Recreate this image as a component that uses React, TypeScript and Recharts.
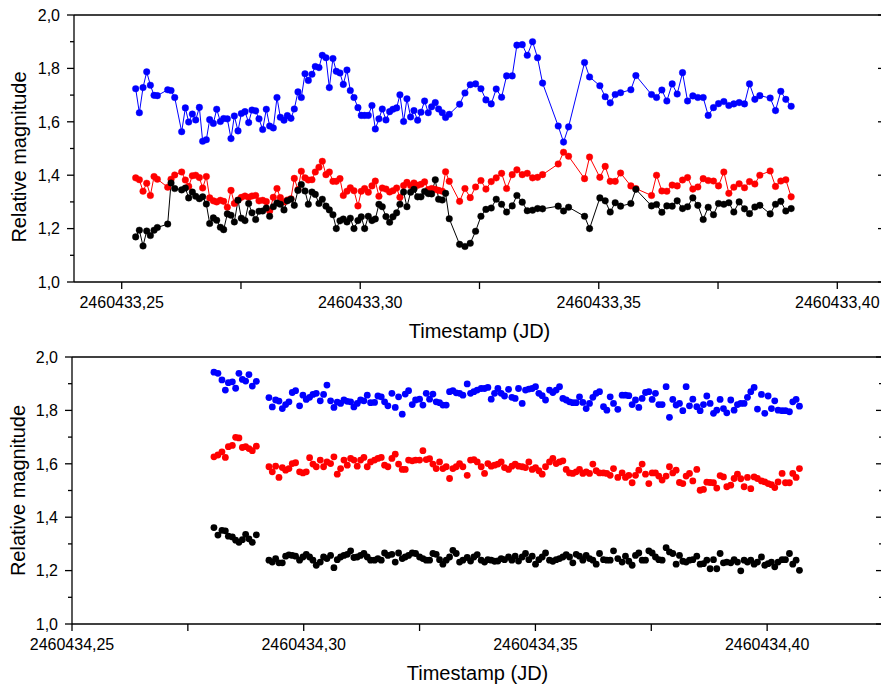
import React from 'react';
import { LineChart, Line, ScatterChart, Scatter, XAxis, YAxis } from 'recharts';

const FONT = '"Liberation Sans", Arial, Helvetica, sans-serif';

// ---------- axis / label definitions ----------
const topJD = '2460433';
const bottomJD = '2460434';
const magnitudeTicks = [1.0, 1.1, 1.2, 1.3, 1.4, 1.5, 1.6, 1.7, 1.8, 1.9, 2.0];
const magnitudeLabels = [1.0, 1.2, 1.4, 1.6, 1.8, 2.0];
const topTimeTicks = [0.25, 0.275, 0.3, 0.325, 0.35, 0.375, 0.4];
const topTimeLabels = [0.25, 0.3, 0.35, 0.4];
const bottomTimeTicks = [0.25, 0.275, 0.3, 0.325, 0.35, 0.375, 0.4, 0.425];
const bottomTimeLabels = [0.25, 0.3, 0.35, 0.4];
const topDomain = [0.24, 0.41];
const bottomDomain = [0.25, 0.425];
const magDomain = [1.0, 2.0];

// ---------- top panel data (JD - 2460433) ----------
const topTime = [
  0.25293, 0.2537, 0.25447, 0.25524, 0.25601, 0.25678, 0.25747, 0.25964, 0.26034, 0.26111,
  0.26257, 0.26334, 0.26404, 0.26481, 0.26551, 0.26628, 0.26697, 0.26774, 0.26844, 0.26921,
  0.26991, 0.27068, 0.27137, 0.27214, 0.27291, 0.27361, 0.27438, 0.27508, 0.27584, 0.27661,
  0.27731, 0.27808, 0.27878, 0.27955, 0.28031, 0.28101, 0.28178, 0.28255, 0.28325, 0.28402,
  0.28472, 0.28548, 0.28618, 0.28695, 0.28765, 0.28842, 0.28912, 0.28988, 0.29058, 0.29135,
  0.29205, 0.29282, 0.29352, 0.29428, 0.29498, 0.29575, 0.29645, 0.29722, 0.29792, 0.29869,
  0.29952, 0.30022, 0.30092, 0.30169, 0.30246, 0.30316, 0.30392, 0.30462, 0.30539, 0.30616,
  0.30686, 0.30763, 0.30832, 0.30909, 0.30979, 0.31056, 0.31126, 0.31203, 0.31273, 0.31349,
  0.31426, 0.31496, 0.31573, 0.31643, 0.3172, 0.31789, 0.31866, 0.32083, 0.32195, 0.32306,
  0.32418, 0.3253, 0.32635, 0.32746, 0.32851, 0.32963, 0.33068, 0.33186, 0.33284, 0.33396,
  0.33501, 0.33612, 0.33717, 0.33822, 0.3415, 0.34262, 0.34367,
  0.34702, 0.34807, 0.35023, 0.35135, 0.3524, 0.35345, 0.35457, 0.35673, 0.35778, 0.36106,
  0.36211, 0.36323, 0.36427, 0.36539, 0.36644, 0.36756, 0.36861, 0.36972, 0.37077, 0.37189,
  0.37294, 0.37405, 0.3751, 0.37622, 0.37727, 0.37831, 0.37943, 0.38055, 0.3816, 0.38272,
  0.38376, 0.38593, 0.38705, 0.38816, 0.38921, 0.39033,
];
const topBlue = [
  1.724, 1.634, 1.728, 1.787, 1.737, 1.699, 1.698, 1.72, 1.717, 1.691,
  1.563, 1.652, 1.599, 1.629, 1.607, 1.654, 1.527, 1.533, 1.608, 1.594,
  1.647, 1.601, 1.612, 1.611, 1.537, 1.622, 1.566, 1.631, 1.638, 1.597,
  1.644, 1.641, 1.611, 1.571, 1.647, 1.584, 1.577, 1.691, 1.617, 1.606,
  1.623, 1.613, 1.648, 1.712, 1.691, 1.78, 1.755, 1.778, 1.807, 1.803,
  1.849, 1.84, 1.728, 1.837, 1.789, 1.783, 1.74, 1.794, 1.717, 1.691,
  1.653, 1.624, 1.624, 1.624, 1.661, 1.573, 1.611, 1.648, 1.607, 1.638,
  1.647, 1.652, 1.701, 1.601, 1.686, 1.618, 1.642, 1.606, 1.636, 1.678,
  1.634, 1.656, 1.672, 1.648, 1.634, 1.616, 1.628, 1.666, 1.708, 1.739,
  1.742, 1.724, 1.682, 1.667, 1.723, 1.692, 1.772, 1.772, 1.887, 1.889,
  1.849, 1.9, 1.84, 1.745, 1.584, 1.524, 1.581,
  1.822, 1.768, 1.735, 1.694, 1.671, 1.702, 1.709, 1.72, 1.773, 1.702,
  1.691, 1.719, 1.678, 1.742, 1.704, 1.784, 1.678, 1.697, 1.691, 1.691,
  1.624, 1.653, 1.668, 1.676, 1.661, 1.667, 1.672, 1.667, 1.742, 1.684,
  1.698, 1.689, 1.642, 1.714, 1.684, 1.658,
];
const topRed = [
  1.39, 1.383, 1.34, 1.37, 1.324, 1.395, 1.385, 1.355, 1.385, 1.401,
  1.412, 1.382, 1.358, 1.398, 1.4, 1.391, 1.352, 1.395, 1.315, 1.304,
  1.3, 1.306, 1.302, 1.28, 1.343, 1.294, 1.307, 1.317, 1.322, 1.317,
  1.322, 1.324, 1.304, 1.306, 1.301, 1.266, 1.317, 1.35, 1.316, 1.3,
  1.307, 1.312, 1.388, 1.346, 1.415, 1.39, 1.382, 1.383, 1.412, 1.43,
  1.452, 1.402, 1.412, 1.377, 1.377, 1.387, 1.324, 1.34, 1.353, 1.342,
  1.285, 1.34, 1.35, 1.336, 1.36, 1.378, 1.321, 1.352, 1.348, 1.337,
  1.342, 1.352, 1.317, 1.361, 1.373, 1.361, 1.371, 1.362, 1.366, 1.375,
  1.346, 1.35, 1.347, 1.343, 1.34, 1.413, 1.377, 1.302, 1.35, 1.316,
  1.356, 1.38, 1.348, 1.376, 1.39, 1.407, 1.35, 1.402, 1.42, 1.402,
  1.407, 1.39, 1.392, 1.402, 1.442, 1.486, 1.471,
  1.387, 1.468, 1.392, 1.433, 1.377, 1.377, 1.408, 1.36, 1.35, 1.324,
  1.4, 1.341, 1.34, 1.363, 1.36, 1.382, 1.391, 1.348, 1.356, 1.387,
  1.38, 1.378, 1.36, 1.412, 1.332, 1.355, 1.368, 1.353, 1.376, 1.367,
  1.4, 1.416, 1.358, 1.378, 1.383, 1.319,
];
const topBlack = [
  1.169, 1.194, 1.135, 1.191, 1.174, 1.194, 1.204, 1.217, 1.371, 1.35,
  1.345, 1.352, 1.315, 1.337, 1.321, 1.312, 1.319, 1.292, 1.219, 1.24,
  1.231, 1.205, 1.196, 1.255, 1.25, 1.225, 1.306, 1.239, 1.23, 1.294,
  1.259, 1.234, 1.265, 1.266, 1.277, 1.246, 1.282, 1.296, 1.291, 1.27,
  1.304, 1.31, 1.287, 1.343, 1.365, 1.341, 1.291, 1.337, 1.328, 1.294,
  1.31, 1.284, 1.27, 1.252, 1.2, 1.229, 1.236, 1.225, 1.239, 1.2,
  1.23, 1.244, 1.2, 1.246, 1.23, 1.236, 1.291, 1.282, 1.245, 1.224,
  1.244, 1.259, 1.291, 1.337, 1.282, 1.336, 1.347, 1.319, 1.319, 1.339,
  1.331, 1.33, 1.383, 1.31, 1.307, 1.332, 1.237, 1.141, 1.133, 1.145,
  1.19, 1.246, 1.272, 1.277, 1.31, 1.291, 1.262, 1.285, 1.324, 1.299,
  1.267, 1.269, 1.275, 1.274, 1.284, 1.266, 1.28,
  1.246, 1.2, 1.315, 1.304, 1.262, 1.297, 1.284, 1.294, 1.347, 1.285,
  1.29, 1.261, 1.285, 1.284, 1.304, 1.275, 1.282, 1.315, 1.287, 1.234,
  1.28, 1.252, 1.294, 1.291, 1.297, 1.262, 1.3, 1.274, 1.256, 1.281,
  1.287, 1.255, 1.291, 1.302, 1.266, 1.275,
];

// ---------- bottom panel data (JD - 2460434) ----------
const bottomTime = [
  0.28063, 0.28149, 0.28236, 0.28309, 0.28374, 0.2846, 0.28531, 0.28602, 0.28676, 0.28747,
  0.28818, 0.28891, 0.28978,
  0.2925, 0.29322, 0.29394, 0.29466, 0.29538, 0.2961, 0.29681, 0.29753, 0.29825, 0.29911,
  0.29983, 0.30055, 0.30127, 0.30199, 0.30271, 0.30357, 0.30429, 0.30501, 0.3058, 0.30652,
  0.30724, 0.30796, 0.30868, 0.3094, 0.31012, 0.31083, 0.31155, 0.31227, 0.31299, 0.31371,
  0.31443, 0.31529, 0.31601, 0.31673, 0.31745, 0.31817, 0.31903, 0.31975, 0.32047, 0.32126,
  0.32191, 0.32263, 0.32342, 0.32414, 0.325, 0.32572, 0.32644, 0.32716, 0.32788, 0.32859,
  0.32931, 0.33003,
  0.33075, 0.33147, 0.33219, 0.33291, 0.33363, 0.33435, 0.33528, 0.336, 0.33672, 0.33744,
  0.3383, 0.33902, 0.33974, 0.34046, 0.34118, 0.3419, 0.34261, 0.34333, 0.3442, 0.34492,
  0.34563, 0.34635, 0.34714, 0.34786, 0.34858, 0.3493, 0.35002, 0.35074, 0.35146, 0.35218,
  0.35304, 0.35376, 0.35448, 0.3552, 0.35592, 0.35664, 0.35735, 0.35807, 0.35879, 0.35951,
  0.36023, 0.36095, 0.36167, 0.36239, 0.36311, 0.36383, 0.36469, 0.36541, 0.36613, 0.36685,
  0.36778,
  0.36871, 0.36943, 0.37015, 0.37087, 0.37159, 0.37231, 0.37303, 0.37375, 0.37447, 0.37519,
  0.3759, 0.37662, 0.37734, 0.3782, 0.37892, 0.37964, 0.38036, 0.38108, 0.3818, 0.38252,
  0.38324, 0.38396, 0.38482, 0.38554, 0.38626, 0.38698, 0.3877, 0.38842, 0.38913, 0.38985,
  0.39057, 0.39129, 0.39215, 0.39287, 0.39359, 0.39431, 0.39503, 0.39575, 0.39647, 0.39719,
  0.39791, 0.39877, 0.39949, 0.40021, 0.40093, 0.40164, 0.40236, 0.40323, 0.40395, 0.40481,
  0.40553, 0.40625, 0.40697,
];
const bottomBlue = [
  1.943, 1.939, 1.914, 1.876, 1.904, 1.907, 1.883, 1.939, 1.916, 1.91, 1.934, 1.891, 1.909,
  1.848, 1.813, 1.839, 1.835, 1.807, 1.822, 1.832, 1.867, 1.874, 1.817,
  1.857, 1.841, 1.849, 1.86, 1.864, 1.836, 1.86, 1.895, 1.836, 1.811,
  1.831, 1.826, 1.839, 1.834, 1.832, 1.813, 1.826, 1.839, 1.836, 1.857,
  1.829, 1.83, 1.854, 1.851, 1.832, 1.817, 1.864, 1.811, 1.851, 1.786,
  1.861, 1.874, 1.822, 1.839, 1.842, 1.82, 1.864, 1.842, 1.861, 1.832,
  1.829, 1.82,
  1.82, 1.87, 1.874, 1.866, 1.864, 1.857, 1.899, 1.864, 1.87, 1.876,
  1.882, 1.882, 1.886, 1.842, 1.864, 1.882, 1.864, 1.854, 1.879, 1.849,
  1.845, 1.882, 1.826, 1.876, 1.88, 1.882, 1.889, 1.864, 1.855, 1.839,
  1.876, 1.867, 1.876, 1.889, 1.845, 1.839, 1.832, 1.829, 1.829, 1.851,
  1.83, 1.807, 1.826, 1.849, 1.864, 1.87, 1.814, 1.801, 1.851, 1.826,
  1.804,
  1.857, 1.857, 1.855, 1.822, 1.839, 1.811, 1.845, 1.867, 1.87, 1.841,
  1.864, 1.822, 1.822, 1.889, 1.774, 1.841, 1.82, 1.826, 1.799, 1.889,
  1.817, 1.842, 1.814, 1.799, 1.822, 1.854, 1.826, 1.789, 1.801, 1.841,
  1.807, 1.791, 1.839, 1.801, 1.822, 1.826, 1.826, 1.849, 1.87, 1.886,
  1.805, 1.86, 1.789, 1.854, 1.807, 1.836, 1.801, 1.799, 1.799, 1.795,
  1.832, 1.841, 1.816,
];
const bottomRed = [
  1.626, 1.633, 1.645, 1.624, 1.664, 1.669, 1.699, 1.697, 1.661, 1.664, 1.657, 1.649, 1.666,
  1.589, 1.57, 1.591, 1.549, 1.586, 1.576, 1.582, 1.601, 1.604, 1.57,
  1.566, 1.57, 1.623, 1.599, 1.589, 1.614, 1.589, 1.607, 1.601, 1.626,
  1.561, 1.582, 1.614, 1.595, 1.62, 1.614, 1.591, 1.614, 1.624, 1.589,
  1.607, 1.614, 1.62, 1.624, 1.595, 1.589, 1.62, 1.636, 1.599, 1.579,
  1.579, 1.614, 1.611, 1.614, 1.614, 1.649, 1.616, 1.619, 1.599, 1.582,
  1.607, 1.582,
  1.589, 1.545, 1.582, 1.589, 1.601, 1.589, 1.557, 1.614, 1.616, 1.607,
  1.589, 1.564, 1.601, 1.591, 1.595, 1.599, 1.607, 1.586, 1.579, 1.591,
  1.599, 1.591, 1.589, 1.586, 1.607, 1.579, 1.586, 1.574, 1.561, 1.589,
  1.607, 1.62, 1.601, 1.607, 1.611, 1.579, 1.566, 1.564, 1.57, 1.579,
  1.564, 1.57, 1.564, 1.599, 1.574, 1.566, 1.566, 1.564, 1.557, 1.582,
  1.549,
  1.566, 1.549, 1.557, 1.529, 1.557, 1.576, 1.599, 1.561, 1.526, 1.566,
  1.566, 1.554, 1.539, 1.554, 1.589, 1.566, 1.576, 1.53, 1.526, 1.554,
  1.564, 1.536, 1.579, 1.501, 1.504, 1.531, 1.53, 1.529, 1.509, 1.556,
  1.551, 1.514, 1.52, 1.545, 1.561, 1.544, 1.514, 1.549, 1.507, 1.551,
  1.545, 1.536, 1.532, 1.526, 1.522, 1.511, 1.532, 1.564, 1.529, 1.529,
  1.564, 1.549, 1.582,
];
const bottomBlack = [
  1.361, 1.333, 1.351, 1.349, 1.329, 1.326, 1.314, 1.306, 1.316, 1.336, 1.319, 1.306, 1.334,
  1.239, 1.232, 1.245, 1.229, 1.229, 1.254, 1.259, 1.257, 1.254, 1.239,
  1.251, 1.261, 1.251, 1.239, 1.22, 1.232, 1.251, 1.245, 1.257, 1.211,
  1.241, 1.251, 1.257, 1.261, 1.274, 1.249, 1.251, 1.257, 1.264, 1.251,
  1.239, 1.239, 1.245, 1.239, 1.266, 1.257, 1.261, 1.232, 1.266, 1.245,
  1.251, 1.257, 1.266, 1.264, 1.251, 1.245, 1.239, 1.239, 1.264, 1.261,
  1.241, 1.224,
  1.239, 1.251, 1.276, 1.264, 1.232, 1.239, 1.249, 1.236, 1.251, 1.26,
  1.239, 1.232, 1.241, 1.239, 1.235, 1.236, 1.245, 1.241, 1.251, 1.239,
  1.254, 1.236, 1.251, 1.264, 1.241, 1.254, 1.224, 1.241, 1.251, 1.266,
  1.239, 1.235, 1.241, 1.245, 1.251, 1.26, 1.251, 1.229, 1.261, 1.254,
  1.239, 1.257, 1.245, 1.239, 1.224, 1.264, 1.241, 1.239, 1.239, 1.274,
  1.245,
  1.232, 1.254, 1.235, 1.22, 1.257, 1.266, 1.239, 1.239, 1.274, 1.266,
  1.251, 1.241, 1.239, 1.286, 1.27, 1.264, 1.224, 1.257, 1.235, 1.232,
  1.239, 1.241, 1.254, 1.224, 1.226, 1.239, 1.207, 1.241, 1.207, 1.264,
  1.229, 1.232, 1.229, 1.241, 1.232, 1.199, 1.239, 1.232, 1.239, 1.224,
  1.232, 1.251, 1.22, 1.226, 1.232, 1.214, 1.232, 1.241, 1.241, 1.264,
  1.224, 1.239, 1.201,
];

const BLUE = '#0000ff';
const RED = '#ff0000';
const BLACK = '#000000';

// ---------- tables built from the arrays ----------
const topRows = topTime.map((t, i) => ({ t, blue: topBlue[i], red: topRed[i], black: topBlack[i] }));
const toPoints = (vals: number[]) =>
  bottomTime.slice(0, vals.length).map((t, i) => ({ t, v: vals[i] }));
const bottomBluePts = toPoints(bottomBlue);
const bottomRedPts = toPoints(bottomRed);
const bottomBlackPts = toPoints(bottomBlack);

// ---------- layout ----------
const CHART_W = 900;
const PLOT_H = 267;
const TOP_H = 352;
const BOT_H = 346;

const near = (list: number[], v: number) => list.some((m) => Math.abs(m - v) < 1e-6);
const fmtMag = (v: number) => v.toFixed(1).replace('.', ',');
const fmtTime = (jd: string, v: number) => `${jd},${String(Math.round(v * 100)).padStart(2, '0')}`;

const AX = { stroke: '#000', strokeWidth: 1.3 };

const LeftMagTick = (props: any) => {
  const { x, y, payload } = props;
  const v = payload.value;
  const major = near(magnitudeLabels, v);
  return (
    <g>
      <line x1={x - (major ? 7 : 4)} x2={x} y1={y} y2={y} stroke="#000" strokeWidth={1.3} />
      {major && (
        <text x={x - 14} y={y} dy={5.7} textAnchor="end" fontSize={16} fontFamily={FONT} fill="#000">
          {fmtMag(v)}
        </text>
      )}
    </g>
  );
};

const RightMagTick = (props: any) => {
  const { x, y, payload } = props;
  const major = near(magnitudeLabels, payload.value);
  return <line x1={x - (major ? 7 : 4)} x2={x} y1={y} y2={y} stroke="#000" strokeWidth={1.3} />;
};

const makeTimeTick = (jd: string, labels: number[]) => (props: any) => {
  const { x, y, payload } = props;
  const v = payload.value;
  return (
    <g>
      <line x1={x} x2={x} y1={y} y2={y + 7} stroke="#000" strokeWidth={1.3} />
      {near(labels, v) && (
        <text x={x} y={y + 26} textAnchor="middle" fontSize={16} fontFamily={FONT} fill="#000">
          {fmtTime(jd, v)}
        </text>
      )}
    </g>
  );
};

const yTitle = (cx: number, cy: number) => () => (
  <text
    x={cx}
    y={cy}
    transform={`rotate(-90, ${cx}, ${cy})`}
    textAnchor="middle"
    fontSize={20}
    fontFamily={FONT}
    fill="#000"
  >
    Relative magnitude
  </text>
);

const xTitle = (cx: number, y: number) => () => (
  <text x={cx} y={y} textAnchor="middle" fontSize={20} fontFamily={FONT} fill="#000">
    Timestamp (JD)
  </text>
);

const dotShape = (color: string) => (p: any) => <circle cx={p.cx} cy={p.cy} r={3.4} fill={color} />;

function TopPanel() {
  const left = 74;
  const top = 15;
  const right = 15;
  const xH = TOP_H - top - PLOT_H;
  const plotW = CHART_W - left - right;
  return (
    <LineChart width={CHART_W} height={TOP_H} data={topRows} margin={{ top, right, bottom: 0, left: 0 }}>
      <XAxis
        type="number"
        dataKey="t"
        domain={topDomain}
        allowDataOverflow
        ticks={topTimeTicks}
        interval={0}
        height={xH}
        tickSize={0}
        tickMargin={0}
        tickLine={false}
        axisLine={AX}
        tick={makeTimeTick(topJD, topTimeLabels)}
        label={xTitle(left + plotW / 2, top + PLOT_H + 56)}
      />
      <XAxis
        xAxisId="top"
        orientation="top"
        mirror
        type="number"
        domain={topDomain}
        allowDataOverflow
        ticks={topTimeTicks}
        interval={0}
        tickSize={7}
        tick={false}
        tickLine={AX}
        axisLine={AX}
      />
      <YAxis
        type="number"
        domain={magDomain}
        allowDataOverflow
        ticks={magnitudeTicks}
        interval={0}
        width={left}
        tickSize={0}
        tickMargin={0}
        tickLine={false}
        axisLine={AX}
        tick={LeftMagTick}
        label={yTitle(26, 157)}
      />
      <YAxis
        yAxisId="right"
        orientation="right"
        mirror
        type="number"
        domain={magDomain}
        allowDataOverflow
        ticks={magnitudeTicks}
        interval={0}
        tickSize={0}
        tickMargin={0}
        tickLine={false}
        axisLine={AX}
        tick={RightMagTick}
      />
      <Line
        dataKey="blue"
        stroke={BLUE}
        strokeWidth={1}
        dot={{ r: 3.3, fill: BLUE, stroke: BLUE, strokeWidth: 0.4 }}
        activeDot={false}
        isAnimationActive={false}
      />
      <Line
        dataKey="red"
        stroke={RED}
        strokeWidth={1}
        dot={{ r: 3.3, fill: RED, stroke: RED, strokeWidth: 0.4 }}
        activeDot={false}
        isAnimationActive={false}
      />
      <Line
        dataKey="black"
        stroke={BLACK}
        strokeWidth={1}
        dot={{ r: 3.3, fill: BLACK, stroke: BLACK, strokeWidth: 0.4 }}
        activeDot={false}
        isAnimationActive={false}
      />
    </LineChart>
  );
}

function BottomPanel() {
  const left = 72;
  const top = 17;
  const right = 17;
  const xH = BOT_H - top - PLOT_H;
  const plotW = CHART_W - left - right;
  return (
    <ScatterChart width={CHART_W} height={BOT_H} margin={{ top, right, bottom: 0, left: 0 }}>
      <XAxis
        type="number"
        dataKey="t"
        domain={bottomDomain}
        allowDataOverflow
        ticks={bottomTimeTicks}
        interval={0}
        height={xH}
        tickSize={0}
        tickMargin={0}
        tickLine={false}
        axisLine={AX}
        tick={makeTimeTick(bottomJD, bottomTimeLabels)}
        label={xTitle(left + plotW / 2, top + PLOT_H + 55.5)}
      />
      <XAxis
        xAxisId="top"
        orientation="top"
        mirror
        type="number"
        domain={bottomDomain}
        allowDataOverflow
        ticks={bottomTimeTicks}
        interval={0}
        tickSize={7}
        tick={false}
        tickLine={AX}
        axisLine={AX}
      />
      <YAxis
        type="number"
        dataKey="v"
        domain={magDomain}
        allowDataOverflow
        ticks={magnitudeTicks}
        interval={0}
        width={left}
        tickSize={0}
        tickMargin={0}
        tickLine={false}
        axisLine={AX}
        tick={LeftMagTick}
        label={yTitle(24.5, top + PLOT_H / 2)}
      />
      <YAxis
        yAxisId="right"
        orientation="right"
        mirror
        type="number"
        domain={magDomain}
        allowDataOverflow
        ticks={magnitudeTicks}
        interval={0}
        tickSize={0}
        tickMargin={0}
        tickLine={false}
        axisLine={AX}
        tick={RightMagTick}
      />
      <Scatter data={bottomBluePts} fill={BLUE} shape={dotShape(BLUE)} isAnimationActive={false} />
      <Scatter data={bottomRedPts} fill={RED} shape={dotShape(RED)} isAnimationActive={false} />
      <Scatter data={bottomBlackPts} fill={BLACK} shape={dotShape(BLACK)} isAnimationActive={false} />
    </ScatterChart>
  );
}

export default function App() {
  return (
    <div
      style={{
        position: 'absolute',
        left: 0,
        top: 0,
        width: 881,
        height: 686,
        overflow: 'hidden',
        background: '#fff',
        fontFamily: FONT,
      }}
    >
      <div style={{ position: 'absolute', left: 0, top: 0 }}>
        <TopPanel />
      </div>
      <div style={{ position: 'absolute', left: 0, top: 340 }}>
        <BottomPanel />
      </div>
    </div>
  );
}
